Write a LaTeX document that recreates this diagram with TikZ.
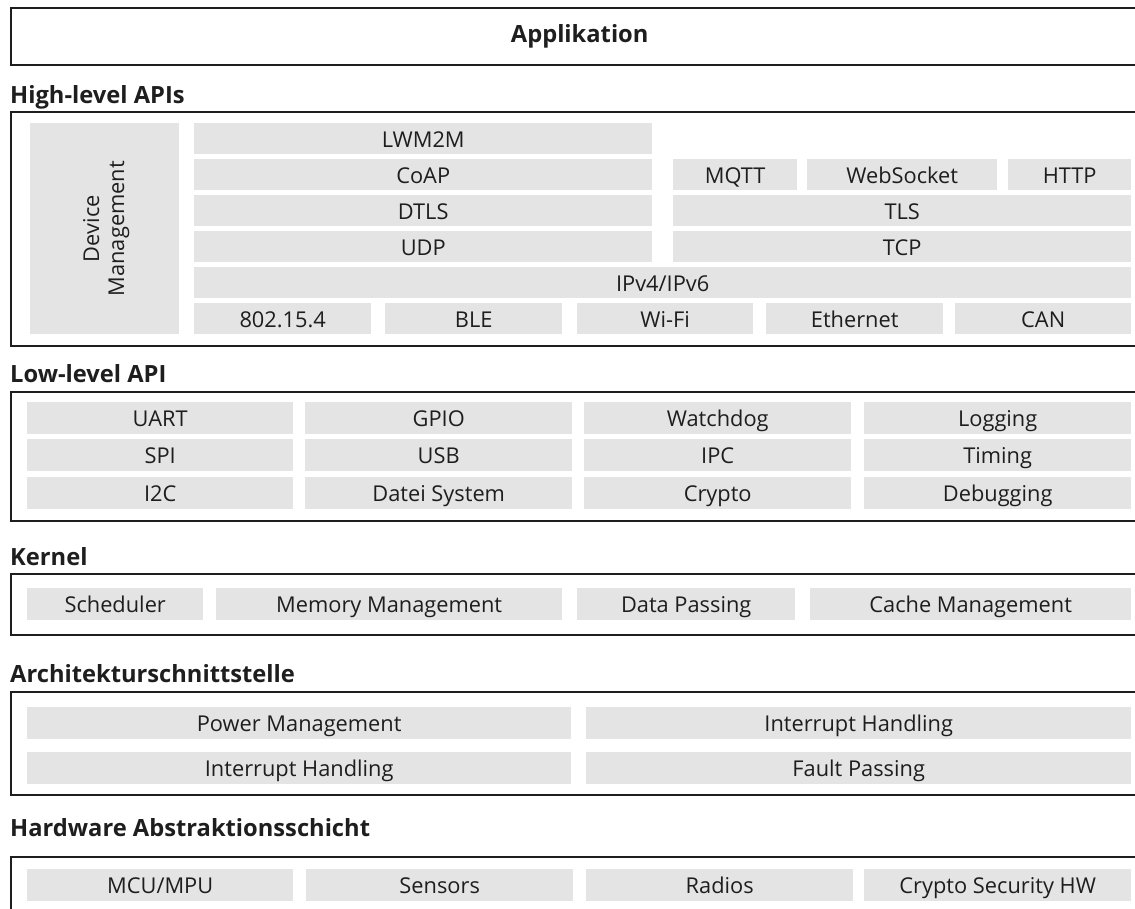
\documentclass[tikz,border=0pt]{standalone}
\usepackage{fontspec}
\setmainfont{Open Sans}
\definecolor{cellgray}{HTML}{E4E4E4}
\definecolor{ink}{HTML}{1E1E1E}
\tikzset{
  frame/.style={draw=ink, line width=2.4pt, fill=none, inner sep=0pt, anchor=north west,
                font=\fontsize{23.7}{28}\selectfont\bfseries, text=ink},
  cell/.style={fill=cellgray, draw=none, inner sep=0pt, anchor=north west,
               text height=17.4pt, text depth=0pt,
               font=\fontsize{21.8}{26}\selectfont, text=ink},
  heading/.style={anchor=base west, inner sep=0pt, font=\fontsize{23.7}{28}\selectfont\bfseries, text=ink},
}
% box from (x1,y1) to (x2,y2), in pixel-like units with y pointing down
\newcommand\cellbox[6]{\node[cell, minimum width={(#4-#2)*1pt}, minimum height={(#5-#3)*1pt}] (#1) at (#2,#3) {#6};}
\newcommand\layerbox[6]{\node[frame, minimum width={(#4-#2)*1pt}, minimum height={(#5-#3)*1pt}] (#1) at (#2,#3) {#6};}
\begin{document}
\begin{tikzpicture}[x=1pt, y=-1pt]
\useasboundingbox (0,0) rectangle (1135,908);
\clip (0,0) rectangle (1135,908);

% Application layer
\layerbox{app}{10}{7}{1147}{64}{Applikation}

% High-level APIs
\node[heading] (hlTitle) at (10,103) {High-level APIs};
\layerbox{hl}{10}{111}{1150}{345}{}
\cellbox{devmgmt}{30}{123}{179}{334}{}
\node[rotate=90, align=center, inner sep=0pt, font=\fontsize{21.8}{25}\selectfont, text=ink] (devmgmtText) at ([xshift=1.5pt]devmgmt.center) {Device\\Management};
\cellbox{lwm2m}{194}{123}{652}{154}{LWM2M}
\cellbox{coap}{194}{159}{652}{190}{CoAP}
\cellbox{mqtt}{673}{159}{797}{190}{MQTT}
\cellbox{websocket}{807}{159}{997}{190}{WebSocket}
\cellbox{http}{1008}{159}{1131}{190}{HTTP}
\cellbox{dtls}{194}{195}{652}{226}{DTLS}
\cellbox{tls}{673}{195}{1131}{226}{TLS}
\cellbox{udp}{194}{231}{652}{262}{UDP}
\cellbox{tcp}{673}{231}{1131}{262}{TCP}
\cellbox{ip}{194}{267}{1131}{298}{IPv4/IPv6}
\cellbox{ieee}{194}{303}{371}{334}{802.15.4}
\cellbox{ble}{385}{303}{562}{334}{BLE}
\cellbox{wifi}{577}{303}{753}{334}{Wi-Fi}
\cellbox{eth}{766}{303}{943}{334}{Ethernet}
\cellbox{can}{955}{303}{1131}{334}{CAN}

% Low-level API
\node[heading] (llTitle) at (10,382) {Low-level API};
\layerbox{ll}{10}{391}{1150}{520}{}
\cellbox{uart}{27}{402}{293}{434}{UART}
\cellbox{gpio}{305}{402}{572}{434}{GPIO}
\cellbox{watchdog}{584}{402}{851}{434}{Watchdog}
\cellbox{logging}{864}{402}{1131}{434}{Logging}
\cellbox{spi}{27}{439}{293}{471}{SPI}
\cellbox{usb}{305}{439}{572}{471}{USB}
\cellbox{ipc}{584}{439}{851}{471}{IPC}
\cellbox{timing}{864}{439}{1131}{471}{Timing}
\cellbox{itwoc}{27}{477}{293}{509}{I2C}
\cellbox{filesys}{305}{477}{572}{509}{Datei System}
\cellbox{crypto}{584}{477}{851}{509}{Crypto}
\cellbox{debugging}{864}{477}{1131}{509}{Debugging}

% Kernel
\node[heading] (kTitle) at (10,565) {Kernel};
\layerbox{kern}{10}{573}{1150}{634}{}
\cellbox{sched}{27}{588}{203}{620}{Scheduler}
\cellbox{memmgmt}{216}{588}{562}{620}{Memory Management}
\cellbox{datapass}{577}{588}{795}{620}{Data Passing}
\cellbox{cachemgmt}{810}{588}{1131}{620}{Cache Management}

% Architecture interface
\node[heading] (aTitle) at (10,682) {Architekturschnittstelle};
\layerbox{arch}{10}{691}{1150}{794}{}
\cellbox{power}{27}{707}{571}{739}{Power Management}
\cellbox{irqa}{586}{707}{1131}{739}{Interrupt Handling}
\cellbox{irqb}{27}{752}{571}{784}{Interrupt Handling}
\cellbox{fault}{586}{752}{1131}{784}{Fault Passing}

% Hardware abstraction layer
\node[heading] (hTitle) at (10,836) {Hardware Abstraktionsschicht};
\layerbox{hal}{10}{856}{1150}{940}{}
\cellbox{mcu}{27}{869}{293}{901}{MCU/MPU}
\cellbox{sensors}{306}{869}{573}{901}{Sensors}
\cellbox{radios}{586}{869}{853}{901}{Radios}
\cellbox{cryptohw}{864}{869}{1131}{901}{Crypto Security HW}
\end{tikzpicture}
\end{document}
